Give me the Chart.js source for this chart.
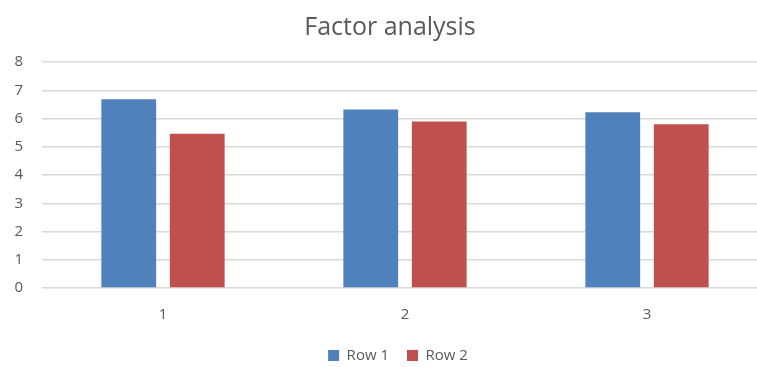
<!DOCTYPE html>
<html>
<head>
<meta charset="utf-8">
<script src="https://cdn.jsdelivr.net/npm/chart.js@4"></script>
<style>
    html, body { margin: 0; padding: 0; background: #fff; overflow: hidden; }
    #wrap { position: relative; width: 780px; height: 367px; }
</style>
</head>
<body>
<div id="wrap"><canvas id="grafic"></canvas></div>
<script>
const categorii = ['1', '2', '3'];
const rand1 = [6.68, 6.32, 6.22];
const rand2 = [5.46, 5.89, 5.80];
const etichetaRand1 = 'Row 1';
const etichetaRand2 = 'Row 2';

const gri = '#595959';

// fixeaza inaltimea legendei ca sa nu mute zona graficului
const legendaFixa = {
    id: 'legendaFixa',
    beforeInit(chart) {
        const fitOriginal = chart.legend.fit;
        chart.legend.fit = function () {
            fitOriginal.bind(chart.legend)();
            this.height = 37;
        };
    },
    afterLayout(chart) {
        // legenda e putin mai la dreapta in original
        chart.legend.left += 8;
        chart.legend.right += 8;
    }
};

const ctx = document.getElementById('grafic').getContext('2d');

new Chart(ctx, {
    type: 'bar',
    data: {
        labels: categorii,
        datasets: [
            {
                label: etichetaRand1,
                data: rand1,
                backgroundColor: '#4F81BD',
                categoryPercentage: 0.566,
                barPercentage: 0.8
            },
            {
                label: etichetaRand2,
                data: rand2,
                backgroundColor: '#C0504D',
                categoryPercentage: 0.566,
                barPercentage: 0.8
            }
        ]
    },
    options: {
        responsive: true,
        maintainAspectRatio: false,
        animation: false,
        layout: { padding: { left: 12, right: 12, top: 0, bottom: 0 } },
        plugins: {
            title: {
                display: true,
                text: 'Factor analysis',
                color: gri,
                font: { family: 'Open Sans', size: 25, weight: 'normal' },
                padding: { top: 13, bottom: 19 }
            },
            legend: {
                position: 'bottom',
                labels: {
                    color: gri,
                    boxWidth: 11,
                    boxHeight: 11,
                    padding: 18,
                    font: { family: 'Open Sans', size: 15 }
                }
            },
            tooltip: { enabled: false }
        },
        scales: {
            x: {
                grid: { display: false, drawTicks: false },
                border: { display: false },
                ticks: { color: gri, padding: 18, font: { family: 'Open Sans', size: 15 } },
                afterFit: (scale) => { scale.height = 42; }
            },
            y: {
                min: 0,
                max: 8,
                grid: { color: '#D9D9D9', lineWidth: 1.5, drawTicks: false },
                border: { display: false },
                ticks: { stepSize: 1, color: gri, padding: 19, font: { family: 'Open Sans', size: 15 } },
                afterFit: (scale) => { scale.width = 30; }
            }
        }
    },
    plugins: [legendaFixa]
});
</script>
</body>
</html>
